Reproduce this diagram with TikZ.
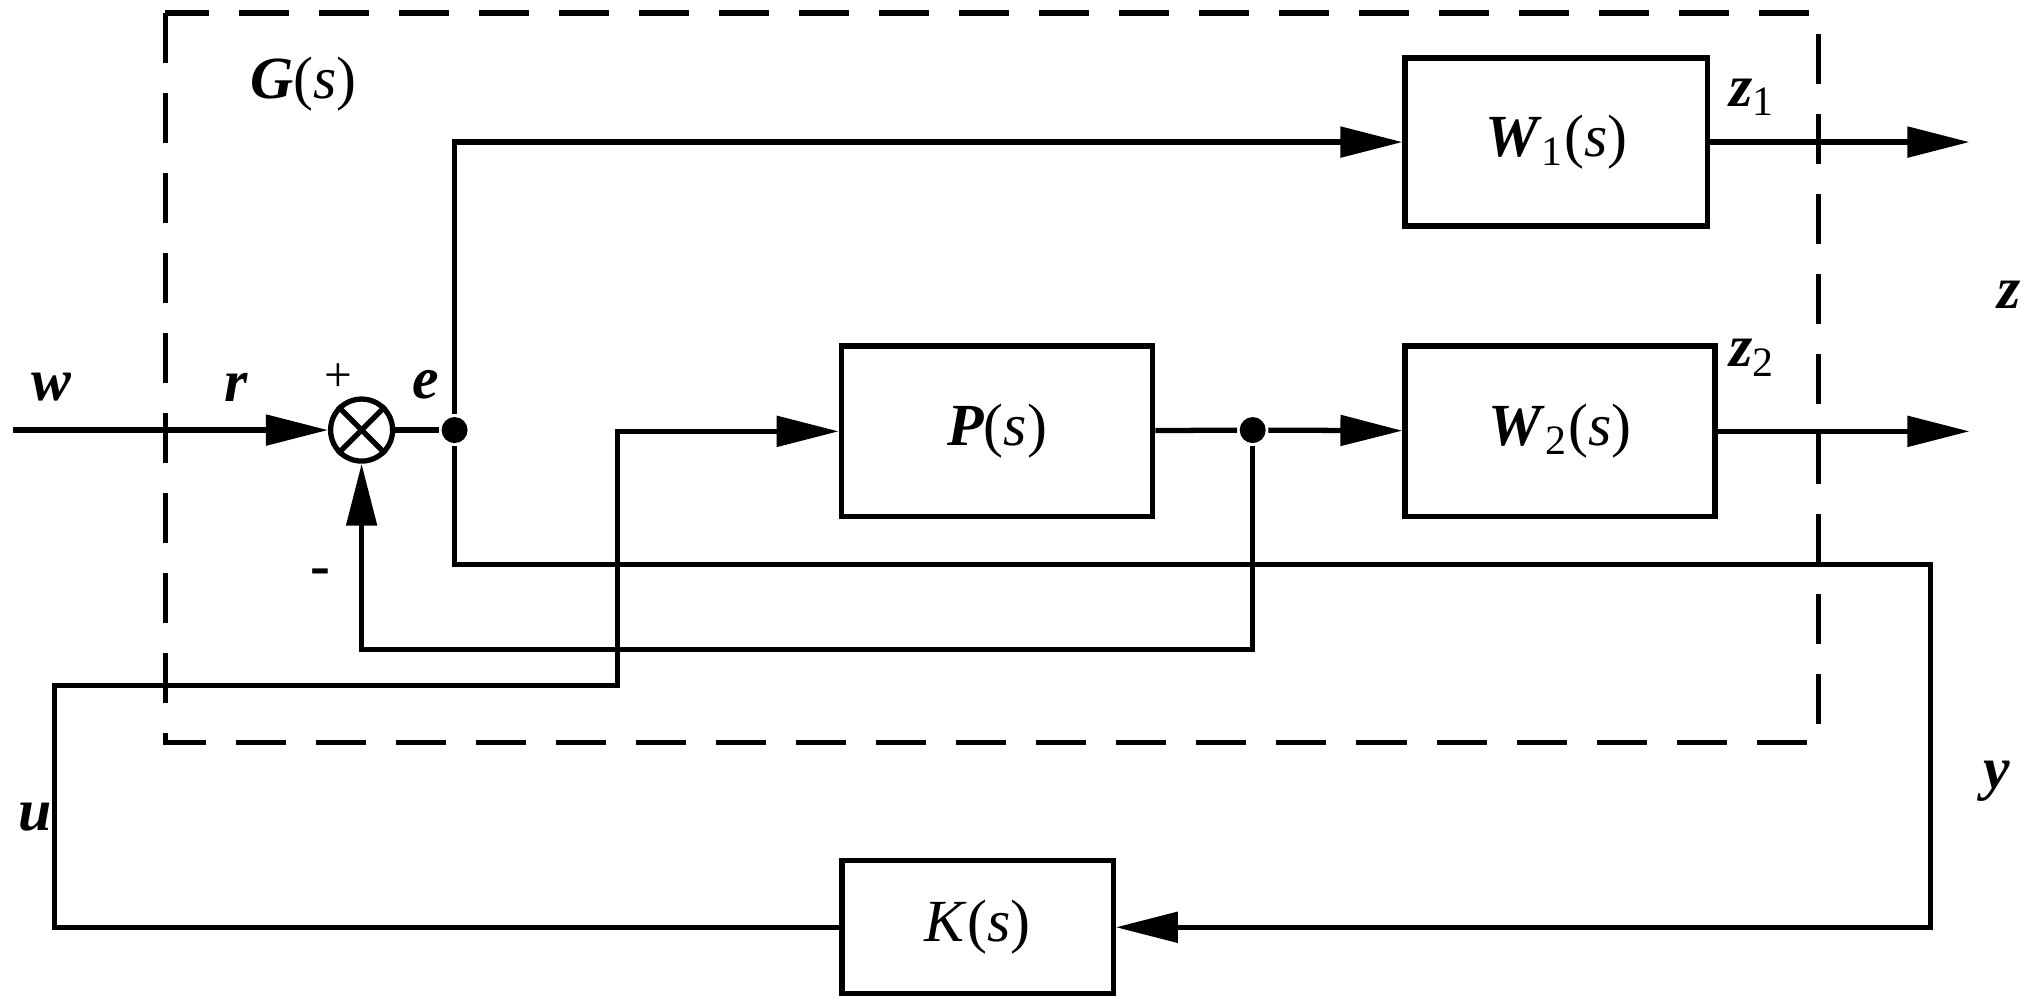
\documentclass[tikz,border=0pt]{standalone}
\usepackage{fontspec}
\setmainfont{Liberation Serif}
\usetikzlibrary{arrows.meta}
\begin{document}
\begin{tikzpicture}[x=0.012914cm,y=-0.012914cm,
  line width=1.5pt,
  >={Triangle[length=0.62cm,width=0.3cm]},
  blk/.style={draw,line width=1.5pt,inner sep=0pt},
  lab/.style={font=\fontsize{17}{20}\selectfont},
  dot/.style={circle,fill,inner sep=0pt,minimum size=0.26cm}]
\useasboundingbox (0,0) rectangle (1568,776);
\draw[dashed,dash pattern=on 0.5cm off 0.3cm] (128,10) rectangle (1408,575);
\node[lab] (G) at (235,65) {\textbf{\textit{G}}(\textit{s})};
\node[blk,minimum width=234*0.012914cm,minimum height=130*0.012914cm] (W1) at (1205,110) {};
\node[lab] at (W1) {\textbf{\textit{W}}\textsubscript{1}(\textit{s})};
\node[blk,minimum width=240*0.012914cm,minimum height=132*0.012914cm] (W2) at (1208,334) {};
\node[lab] at (W2) {\textbf{\textit{W}}\textsubscript{2}(\textit{s})};
\node[blk,minimum width=241*0.012914cm,minimum height=132*0.012914cm] (P) at (772,334) {};
\node[lab] at (P) {\textbf{\textit{P}}(\textit{s})};
\node[blk,minimum width=210*0.012914cm,minimum height=103*0.012914cm] (K) at (757,718) {};
\node[lab] at (K) {\textit{K}(\textit{s})};
\node[draw,circle,line width=1.5pt,minimum size=0.62cm,inner sep=0pt] (S) at (280,333) {};
\draw (S.north west)--(S.south east) (S.north east)--(S.south west);
\node[dot] (E) at (352,333) {};
\node[dot] (D) at (970,333) {};
\coordinate (w0) at (10,333);
\coordinate (o1) at (1525,110);
\coordinate (o2) at (1525,334);
\draw[->] (w0)--(S);
\draw (S)--(E);
\draw[->] (E)--(352,110)--(W1);
\draw[->] (W1)--(o1);
\draw[->] (W2)--(o2);
\draw (P)--(D);
\draw[->] (D)--(W2);
\draw[->] (D)--(970,503)--(280,503)--(S);
\draw[->] (E)--(352,437)--(1495,437)--(1495,718)--(K);
\draw[->] (K)--(42,718)--(42,531)--(478,531)--(478,334)--(P);
\node[lab] at (40,300) {\textbf{\textit{w}}};
\node[lab] at (183,300) {\textbf{\textit{r}}};
\node[font=\fontsize{14}{16}\selectfont] at (262,292) {+};
\node[lab] at (330,298) {\textbf{\textit{e}}};
\node[lab] at (248,447) {\textbf{-}};
\node[lab] at (1357,75) {\textbf{\textit{z}}\textsubscript{1}};
\node[lab] at (1357,277) {\textbf{\textit{z}}\textsubscript{2}};
\node[lab] at (1556,228) {\textbf{\textit{z}}};
\node[lab] at (1546,605) {\textbf{\textit{y}}};
\node[lab] at (27,633) {\textbf{\textit{u}}};
\end{tikzpicture}
\end{document}
